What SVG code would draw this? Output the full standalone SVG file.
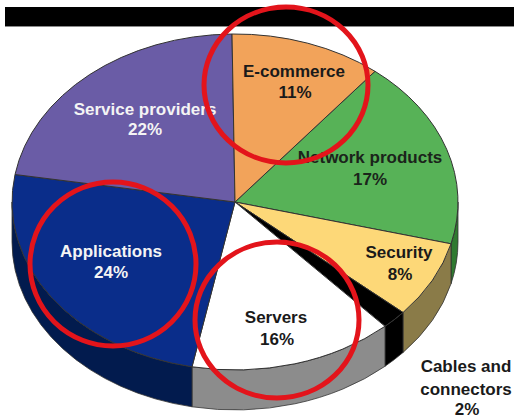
<svg xmlns="http://www.w3.org/2000/svg" width="514" height="418" viewBox="0 0 514 418">
<style>
.top{stroke:#333;stroke-width:1;stroke-linejoin:round}
.side{stroke:#333;stroke-width:0.8;stroke-linejoin:round}
.lbl{font-family:"Liberation Sans",Arial,sans-serif;font-weight:bold;font-size:17px;text-anchor:middle}
.dark{fill:#1a1a1a}
.light{fill:#f4f4f4}
.ring{fill:none;stroke:#e3141b;stroke-width:5}
</style>
<rect x="0" y="0" width="514" height="418" fill="#ffffff"/>
<rect x="5" y="7" width="509" height="19" fill="#000000"/>
<line x1="5" y1="26.5" x2="514" y2="26.5" stroke="#8a8a8a" stroke-width="1"/>

<g id="network-products">
<path class="side" d="M458,202 A223,168 0 0 1 451,243.8 L451,283.8 A223,168 0 0 0 458,242 Z" fill="#2f7a30"/>
<path class="top" d="M235,202 L375,71.3 A223,168 0 0 1 451,243.8 Z" fill="#57b257"/>
<text class="lbl" x="370" y="163" fill="#1b241b">Network products</text>
<text class="lbl" x="370" y="185" fill="#1b241b">17%</text>
</g>

<g id="security">
<path class="side" d="M451,243.8 A223,168 0 0 1 403,312.5 L403,352.5 A223,168 0 0 0 451,283.8 Z" fill="#8a7b48"/>
<path class="top" d="M235,202 L451,243.8 A223,168 0 0 1 403,312.5 Z" fill="#fdd878"/>
<text class="lbl dark" x="399" y="258">Security</text>
<text class="lbl dark" x="400" y="280">8%</text>
</g>

<g id="cables-and-connectors">
<path class="side" d="M403,312.5 A223,168 0 0 1 385,326.3 L385,366.3 A223,168 0 0 0 403,352.5 Z" fill="#000000"/>
<path class="top" d="M235,202 L403,312.5 A223,168 0 0 1 385,326.3 Z" fill="#000000"/>
<text class="lbl dark" x="466" y="372">Cables and</text>
<text class="lbl dark" x="466" y="395">connectors</text>
<text class="lbl dark" x="467" y="415">2%</text>
</g>

<g id="servers">
<path class="side" d="M385,326.3 A223,168 0 0 1 192,366.8 L192,406.8 A223,168 0 0 0 385,366.3 Z" fill="#8c8c8c"/>
<path class="top" d="M235,202 L385,326.3 A223,168 0 0 1 192,366.8 Z" fill="#ffffff"/>
<text class="lbl dark" x="276" y="323">Servers</text>
<text class="lbl dark" x="277" y="345">16%</text>
</g>

<g id="applications">
<path class="side" d="M192,366.8 A223,168 0 0 1 12,202 L12,242 A223,168 0 0 0 192,406.8 Z" fill="#021b4e"/>
<path class="top" d="M235,202 L192,366.8 A223,168 0 0 1 15,174.5 Z" fill="#0a2d8a"/>
<text class="lbl light" x="111" y="257">Applications</text>
<text class="lbl light" x="111" y="278">24%</text>
</g>

<g id="service-providers">
<path class="top" d="M235,202 L15,174.5 A223,168 0 0 1 232,34 Z" fill="#6a5ca6"/>
<text class="lbl light" x="145" y="115">Service providers</text>
<text class="lbl light" x="145" y="135">22%</text>
</g>

<g id="e-commerce">
<path class="top" d="M235,202 L232,34 A223,168 0 0 1 375,71.3 Z" fill="#f2a35a"/>
<text class="lbl dark" x="294" y="77">E-commerce</text>
<text class="lbl dark" x="295" y="98">11%</text>
</g>

<g id="highlights">
<ellipse class="ring" cx="286" cy="85" rx="82" ry="78"/>
<ellipse class="ring" cx="113" cy="264" rx="83" ry="82"/>
<ellipse class="ring" cx="277" cy="320" rx="82" ry="78"/>
</g>
</svg>
